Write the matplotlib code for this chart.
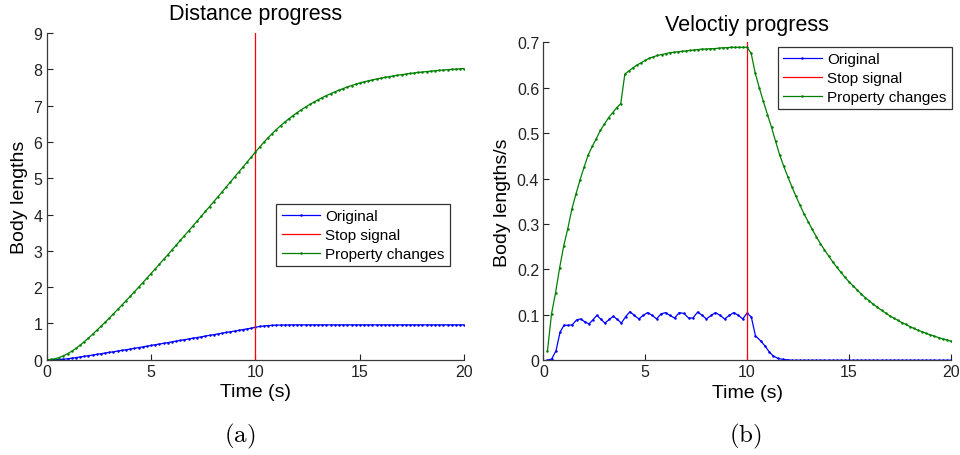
import numpy as np
import matplotlib
matplotlib.use("Agg")
import matplotlib.pyplot as plt

plt.rcParams["font.family"] = ["Liberation Sans", "DejaVu Sans"]
plt.rcParams["mathtext.fontset"] = "cm"

# ---- data -------------------------------------------------------------
time_dist = np.round(np.arange(0, 101) * 0.2, 1)          # 0 .. 20 s
dist_original = [
    0.000, 0.000, 0.001, 0.003, 0.012, 0.026, 0.042, 0.058, 0.075, 0.093,
    0.111, 0.128, 0.146, 0.165, 0.184, 0.201, 0.219, 0.238, 0.257, 0.274,
    0.292, 0.313, 0.333, 0.352, 0.372, 0.392, 0.413, 0.432, 0.451, 0.471,
    0.492, 0.512, 0.531, 0.551, 0.572, 0.592, 0.611, 0.630, 0.651, 0.671,
    0.690, 0.710, 0.730, 0.751, 0.770, 0.789, 0.809, 0.830, 0.850, 0.869,
    0.895, 0.915, 0.930, 0.940, 0.947, 0.952, 0.955, 0.957, 0.958, 0.959,
    0.960, 0.960, 0.960, 0.960, 0.960, 0.960, 0.960, 0.960, 0.960, 0.960,
    0.960, 0.960, 0.960, 0.960, 0.960, 0.960, 0.960, 0.960, 0.960, 0.960,
    0.960, 0.960, 0.960, 0.960, 0.960, 0.960, 0.960, 0.960, 0.960, 0.960,
    0.960, 0.960, 0.960, 0.960, 0.960, 0.960, 0.960, 0.960, 0.960, 0.960,
    0.960,
]
dist_changed = [
    0.000, 0.007, 0.027, 0.060, 0.106, 0.164, 0.233, 0.312, 0.400, 0.495,
    0.596, 0.701, 0.809, 0.920, 1.033, 1.148, 1.265, 1.384, 1.503, 1.624,
    1.745, 1.869, 1.994, 2.120, 2.247, 2.375, 2.503, 2.632, 2.762, 2.892,
    3.023, 3.154, 3.286, 3.418, 3.550, 3.683, 3.816, 3.950, 4.084, 4.218,
    4.353, 4.488, 4.624, 4.760, 4.897, 5.034, 5.171, 5.308, 5.446, 5.584,
    5.722, 5.859, 5.989, 6.113, 6.230, 6.341, 6.446, 6.546, 6.639, 6.727,
    6.810, 6.889, 6.963, 7.033, 7.100, 7.162, 7.222, 7.278, 7.330, 7.380,
    7.428, 7.472, 7.515, 7.554, 7.592, 7.628, 7.657, 7.684, 7.710, 7.734,
    7.757, 7.779, 7.799, 7.819, 7.837, 7.854, 7.870, 7.886, 7.900, 7.914,
    7.927, 7.939, 7.951, 7.962, 7.972, 7.982, 7.991, 8.000, 8.008, 8.016,
    8.023,
]

time_vel_original = [
    0.20, 0.41, 0.62, 0.82, 1.01, 1.22, 1.42, 1.63, 1.83, 2.03,
    2.24, 2.43, 2.63, 2.83, 3.02, 3.24, 3.43, 3.63, 3.83, 4.04,
    4.25, 4.46, 4.69, 4.90, 5.12, 5.34, 5.56, 5.77, 6.00, 6.20,
    6.44, 6.67, 6.90, 7.13, 7.34, 7.57, 7.80, 8.00, 8.24, 8.45,
    8.67, 8.90, 9.13, 9.35, 9.57, 9.79, 10.00, 10.21, 10.41, 10.66,
    10.87, 11.08, 11.27, 11.52, 11.76, 12.00,
] + list(np.round(np.arange(12.2, 20.01, 0.2), 1))
vel_original = [
    0.000, 0.003, 0.021, 0.062, 0.077, 0.077, 0.078, 0.089, 0.091, 0.085,
    0.080, 0.089, 0.099, 0.090, 0.082, 0.090, 0.097, 0.090, 0.082, 0.096,
    0.107, 0.099, 0.091, 0.099, 0.105, 0.099, 0.091, 0.102, 0.105, 0.099,
    0.093, 0.105, 0.103, 0.093, 0.093, 0.106, 0.099, 0.091, 0.099, 0.105,
    0.099, 0.091, 0.099, 0.105, 0.099, 0.091, 0.104, 0.095, 0.054, 0.043,
    0.032, 0.019, 0.010, 0.004, 0.002, 0.001,
] + [0.0] * 40

time_vel = np.round(np.arange(1, 101) * 0.2, 1)           # 0.2 .. 20 s
vel_changed = [
    0.020, 0.102, 0.149, 0.204, 0.252, 0.290, 0.333, 0.366, 0.397, 0.425,
    0.452, 0.471, 0.488, 0.506, 0.520, 0.534, 0.545, 0.556, 0.565, 0.630,
    0.637, 0.644, 0.650, 0.655, 0.660, 0.665, 0.668, 0.671, 0.673, 0.675,
    0.677, 0.678, 0.679, 0.680, 0.681, 0.682, 0.683, 0.684, 0.685, 0.685,
    0.686, 0.686, 0.687, 0.688, 0.688, 0.689, 0.689, 0.689, 0.689, 0.689,
    0.676, 0.632, 0.600, 0.570, 0.541, 0.513, 0.482, 0.452, 0.427, 0.404,
    0.382, 0.361, 0.341, 0.322, 0.305, 0.288, 0.272, 0.257, 0.243, 0.230,
    0.217, 0.205, 0.194, 0.183, 0.173, 0.164, 0.155, 0.146, 0.138, 0.131,
    0.123, 0.117, 0.110, 0.104, 0.098, 0.093, 0.088, 0.083, 0.079, 0.074,
    0.070, 0.066, 0.063, 0.059, 0.056, 0.053, 0.050, 0.047, 0.045, 0.042,
]

stop_time = 10
series_labels = ["Original", "Stop signal", "Property changes"]
xticks = [0, 5, 10, 15, 20]
dist_yticks = list(range(0, 10))
vel_yticks = [0, 0.1, 0.2, 0.3, 0.4, 0.5, 0.6, 0.7]

# ---- figure -----------------------------------------------------------
fig = plt.figure(figsize=(9.6, 4.56), dpi=100)
ax_a = fig.add_axes([0.0486, 0.209, 0.435, 0.7163])
ax_b = fig.add_axes([0.566, 0.2077, 0.4244, 0.6974])

BLUE, RED, GREEN = (0, 0, 1), (1, 0, 0), (0, 0.5, 0)
line_kw = dict(lw=0.9, marker=".", markersize=1.6)


def style_axes(ax, yticks, ylim, yfmt):
    ax.set_xlim(0, 20)
    ax.set_ylim(*ylim)
    ax.set_xticks(xticks)
    ax.set_yticks(yticks)
    ax.set_yticklabels([yfmt(v) for v in yticks])
    for side in ("top", "right"):
        ax.spines[side].set_visible(False)
    for side in ("left", "bottom"):
        ax.spines[side].set_color("#3a3a3a")
        ax.spines[side].set_linewidth(0.9)
    ax.tick_params(direction="in", length=4, width=0.8, labelsize=11.5,
                   colors="#222222", pad=3)
    ax.set_xlabel("Time (s)", fontsize=14, labelpad=3)


def add_legend(ax, anchor):
    leg = ax.legend(loc="upper right", bbox_to_anchor=anchor,
                    fontsize=11, frameon=True, fancybox=False,
                    borderpad=0.35, labelspacing=0.32, handlelength=2.5,
                    handletextpad=0.35, borderaxespad=0)
    leg.get_frame().set_edgecolor("black")
    leg.get_frame().set_linewidth(0.9)
    return leg


# (a) distance
ax_a.plot(time_dist, dist_original, color=BLUE, label=series_labels[0], **line_kw)
ax_a.plot([stop_time, stop_time], [0, 9], color=RED, lw=0.9, label=series_labels[1])
ax_a.plot(time_dist, dist_changed, color=GREEN, label=series_labels[2], **line_kw)
style_axes(ax_a, dist_yticks, (0, 9), lambda v: f"{v:d}")
ax_a.set_ylabel("Body lengths", fontsize=14, labelpad=4)
ax_a.set_title("Distance progress", fontsize=15.5, pad=10)
add_legend(ax_a, (0.966, 0.477))

# (b) velocity
ax_b.plot(time_vel_original, vel_original, color=BLUE, label=series_labels[0], **line_kw)
ax_b.plot([stop_time, stop_time], [0, 0.7], color=RED, lw=0.9, label=series_labels[1])
ax_b.plot(time_vel, vel_changed, color=GREEN, label=series_labels[2], **line_kw)
style_axes(ax_b, vel_yticks, (0, 0.7), lambda v: f"{v:g}")
ax_b.set_ylabel("Body lengths/s", fontsize=14, labelpad=4)
ax_b.set_title("Veloctiy progress", fontsize=15.5, pad=9)
add_legend(ax_b, (1.002, 0.986))

# sub-figure captions
fig.text(0.250, 0.042, r"$(\mathrm{a})$", ha="center", va="center", fontsize=18)
fig.text(0.776, 0.042, r"$(\mathrm{b})$", ha="center", va="center", fontsize=18)

fig.savefig("out.png", dpi=100)
